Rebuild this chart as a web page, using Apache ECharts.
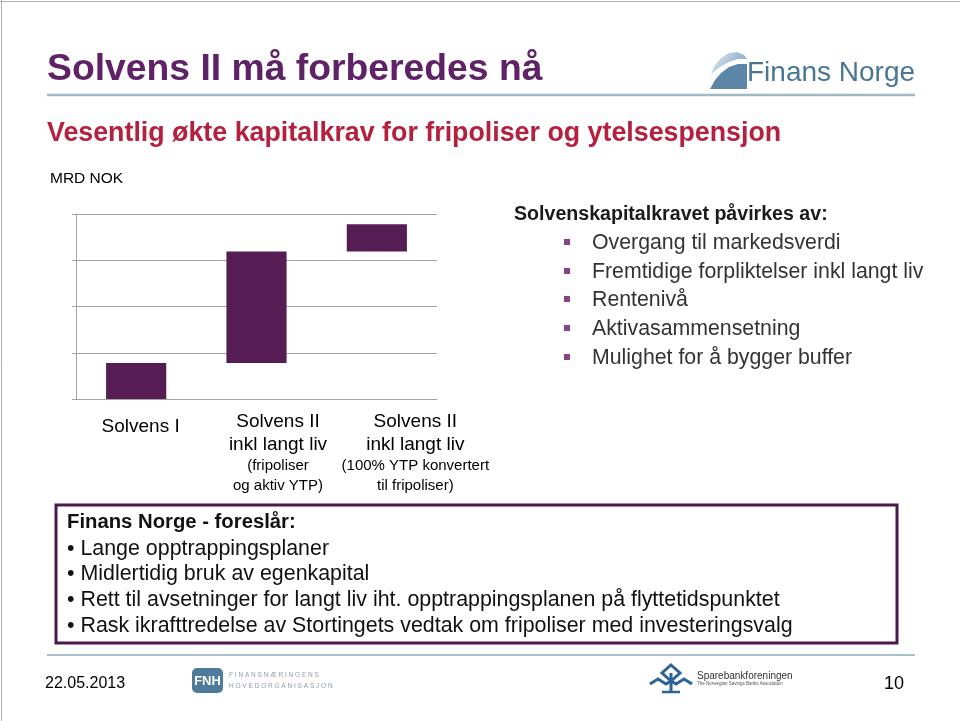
<!DOCTYPE html>
<html>
<head>
<meta charset="utf-8">
<script src="https://cdn.jsdelivr.net/npm/echarts@6/dist/echarts.min.js"></script>
<style>
html,body{margin:0;padding:0;background:#fff;}
#chart{width:960px;height:721px;}
</style>
</head>
<body>
<div id="chart"></div>
<script>
// ---- data ----
const categories = [
  'Solvens I',
  'Solvens II\ninkl langt liv\n(fripoliser\nog aktiv YTP)',
  'Solvens II\ninkl langt liv\n(100% YTP konvertert\ntil fripoliser)'
];
// waterfall steps (MRD NOK; no axis labels shown)
const stepStart = [0, 0.78, 3.19];
const stepEnd   = [0.78, 3.19, 3.78];
const yTicks = [0, 1, 2, 3, 4];

const factors = [
  'Overgang til markedsverdi',
  'Fremtidige forpliktelser inkl langt liv',
  'Rentenivå',
  'Aktivasammensetning',
  'Mulighet for å bygger buffer'
];
const proposals = [
  'Lange opptrappingsplaner',
  'Midlertidig bruk av egenkapital',
  'Rett til avsetninger for langt liv iht. opptrappingsplanen på flyttetidspunktet',
  'Rask ikrafttredelse av Stortingets vedtak om fripoliser med investeringsvalg'
];

const FONT = 'Liberation Sans, Arial, sans-serif';
const barColor = '#561c54';
const gridColor = '#a3a3a3';

const stepDelta = stepEnd.map((v, i) => +(v - stepStart[i]).toFixed(4));

const graphics = [];
// page edge lines
graphics.push({type:'line', shape:{x1:0,y1:1.5,x2:960,y2:1.5}, style:{stroke:'#b0b0b0', lineWidth:1}});
graphics.push({type:'line', shape:{x1:1.5,y1:0,x2:1.5,y2:721}, style:{stroke:'#b0b0b0', lineWidth:1}});
// title
graphics.push({type:'text', x:47, y:70, style:{text:'Solvens II må forberedes nå', font:'bold 37.3px '+FONT, fill:'#5f2266', verticalAlign:'middle'}});
graphics.push({type:'line', shape:{x1:47,y1:95,x2:915,y2:95}, style:{stroke:'#9fb8c6', lineWidth:2.5}});
// Finans Norge logo
graphics.push({type:'polygon', shape:{points:[[711,74],[715,65],[721,58],[729,53],[737,52],[744,55],[747,59],[738,59],[729,62],[720,67]]},
  style:{fill:{type:'linear',x:0,y:0,x2:1,y2:1,colorStops:[{offset:0,color:'#dbe7ef'},{offset:1,color:'#7ea3bd'}]}}});
graphics.push({type:'polygon', shape:{points:[[710,89],[747,89],[747,64],[738,64],[729,67],[721,73],[715,80]]},
  style:{fill:'#5c86a6'}});
graphics.push({type:'text', x:747, y:73, style:{text:'Finans Norge', font:'28px '+FONT, fill:'#4a7696', verticalAlign:'middle'}});
// subtitle
graphics.push({type:'text', x:47, y:134, style:{text:'Vesentlig økte kapitalkrav for fripoliser og ytelsespensjon', font:'bold 26.8px '+FONT, fill:'#b5203f', verticalAlign:'middle'}});
graphics.push({type:'text', x:50, y:179, style:{text:'MRD NOK', font:'15.5px '+FONT, fill:'#000', verticalAlign:'middle'}});
// right panel
graphics.push({type:'text', x:514, y:215, style:{text:'Solvenskapitalkravet påvirkes av:', font:'bold 19.6px '+FONT, fill:'#1a1a1a', verticalAlign:'middle'}});
const factorY = [243, 272, 300, 329, 358];
factors.forEach((t, i) => {
  graphics.push({type:'rect', shape:{x:564, y:factorY[i]-4, width:6, height:6}, style:{fill:'#84458a'}});
  graphics.push({type:'text', x:592, y:factorY[i], style:{text:t, font:'21.3px '+FONT, fill:'#333', verticalAlign:'middle'}});
});
// proposal box
graphics.push({type:'rect', shape:{x:56, y:505, width:841, height:138}, style:{fill:'none', stroke:'#4b1a4c', lineWidth:3}});
graphics.push({type:'text', x:67, y:522, style:{text:'Finans Norge - foreslår:', font:'bold 20.3px '+FONT, fill:'#111', verticalAlign:'middle'}});
const propY = [549, 574, 600, 626];
proposals.forEach((t, i) => {
  graphics.push({type:'text', x:67, y:propY[i], style:{text:'\u2022 ' + t, font:'21.4px '+FONT, fill:'#111', verticalAlign:'middle'}});
});
// footer
graphics.push({type:'line', shape:{x1:47,y1:655,x2:915,y2:655}, style:{stroke:'#a9bfcc', lineWidth:2}});
graphics.push({type:'text', x:45, y:684, style:{text:'22.05.2013', font:'16px '+FONT, fill:'#000', verticalAlign:'middle'}});
graphics.push({type:'text', x:904, y:684, style:{text:'10', font:'18px '+FONT, fill:'#000', align:'right', verticalAlign:'middle'}});
// FNH logo
graphics.push({type:'rect', shape:{x:192, y:668, width:31, height:25, r:5}, style:{fill:'#4f7b9b'}});
graphics.push({type:'text', x:207.5, y:681, style:{text:'FNH', font:'bold 13px '+FONT, fill:'#fff', align:'center', verticalAlign:'middle'}});
graphics.push({type:'text', x:229, y:675, style:{text:'F I N A N S N Æ R I N G E N S', font:'6.5px '+FONT, fill:'#8c9caa', verticalAlign:'middle'}});
graphics.push({type:'text', x:229, y:686, style:{text:'H O V E D O R G A N I S A S J O N', font:'6.5px '+FONT, fill:'#8c9caa', verticalAlign:'middle'}});
// Sparebankforeningen logo
graphics.push({type:'polygon', shape:{points:[[671,665],[680,673],[671,681],[662,673]]}, style:{fill:'none', stroke:'#2c6496', lineWidth:3}});
graphics.push({type:'polyline', shape:{points:[[650,684],[658,679],[666,684],[671,681],[676,684],[684,679],[692,684]]}, style:{stroke:'#2c6496', lineWidth:3, fill:'none'}});
graphics.push({type:'line', shape:{x1:671,y1:673,x2:671,y2:692}, style:{stroke:'#2c6496', lineWidth:3}});
graphics.push({type:'line', shape:{x1:662,y1:692,x2:680,y2:692}, style:{stroke:'#2c6496', lineWidth:2.5}});
graphics.push({type:'text', x:697, y:676, style:{text:'Sparebankforeningen', font:'10px '+FONT, fill:'#333', verticalAlign:'middle'}});
graphics.push({type:'text', x:697, y:684, style:{text:'The Norwegian Savings Banks Association', font:'4.5px '+FONT, fill:'#555', verticalAlign:'middle'}});

const chart = echarts.init(document.getElementById('chart'), null, {renderer:'canvas'});
chart.setOption({
  animation: false,
  backgroundColor: '#fff',
  grid: [
    {left:76, top:214, width:361, height:185},
    {left:72, top:214, width:412, height:185}
  ],
  xAxis: [
    {type:'category', gridIndex:0, data:categories,
      axisLine:{show:true, lineStyle:{color:gridColor}}, axisTick:{show:false}, axisLabel:{show:false}},
    {type:'category', gridIndex:1, data:categories,
      axisLine:{show:false}, axisTick:{show:false},
      axisLabel:{show:true, interval:0, margin:11, color:'#000', fontFamily:FONT,
        formatter: function (v) {
          const lines = v.split('\n');
          if (lines.length === 1) return '{c|' + lines[0] + '}';
          return lines.map((l, i) => (i < 2 ? '{a|' : '{b|') + l + '}').join('\n');
        },
        rich:{
          a:{fontSize:19, lineHeight:23, fontFamily:FONT, color:'#000'},
          b:{fontSize:15, lineHeight:20, fontFamily:FONT, color:'#000'},
          c:{fontSize:19, lineHeight:23, fontFamily:FONT, color:'#000', padding:[11,0,0,0]}
        }}}
  ],
  yAxis: [
    {type:'value', gridIndex:0, min:yTicks[0], max:yTicks[yTicks.length-1], interval:1,
      axisLine:{show:true, lineStyle:{color:gridColor}},
      axisTick:{show:true, length:4, lineStyle:{color:gridColor}},
      axisLabel:{show:false},
      splitLine:{show:true, lineStyle:{color:gridColor, width:1}}},
    {type:'value', gridIndex:1, show:false, min:0, max:4}
  ],
  series: [
    {type:'bar', name:'base', stack:'w', xAxisIndex:0, yAxisIndex:0, data:stepStart,
      itemStyle:{color:'transparent'}, barWidth:'50%', silent:true},
    {type:'bar', name:'step', stack:'w', xAxisIndex:0, yAxisIndex:0, data:stepDelta,
      itemStyle:{color:barColor}, barWidth:'50%'}
  ],
  graphic: graphics
});
</script>
</body>
</html>
